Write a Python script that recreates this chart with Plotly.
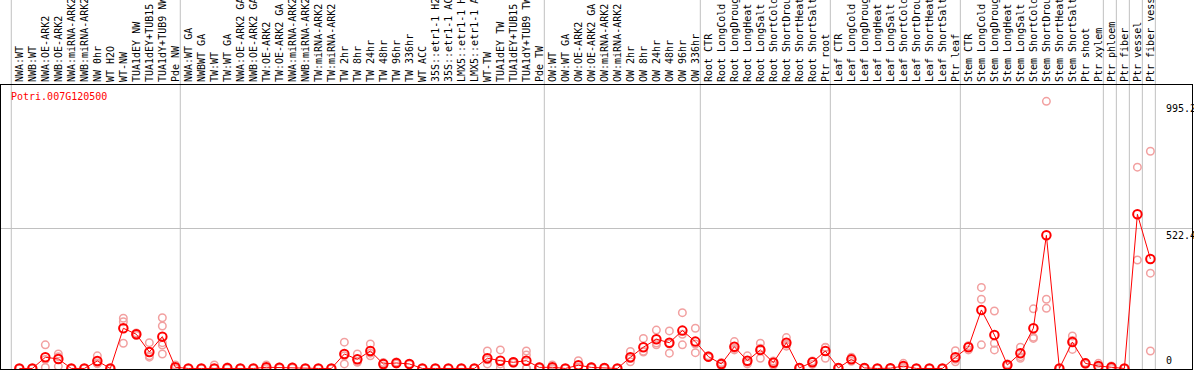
import plotly.graph_objects as go

gene = "Potri.007G120500"

categories = [
    "NWA:WT", "NWB:WT", "NWA:OE-ARK2", "NWB:OE-ARK2", "NWA:miRNA-ARK2", "NWB:miRNA-ARK2",
    "NW 0hr", "WT H2O", "WT-NW", "TUA1dEY NW", "TUA1dEY+TUB15 NW", "TUA1dY+TUB9 NW", "Pde NW",
    "NWA:WT GA", "NWBWT GA", "TW:WT", "TW:WT GA", "NWA:OE-ARK2 GA", "NWB:OE-ARK2 GA",
    "TW:OE-ARK2", "TW:OE-ARK2 GA", "NWA:miRNA-ARK2 GA", "NWB:miRNA-ARK2 GA", "TW:miRNA-ARK2",
    "TW:miRNA-ARK2 GA", "TW 2hr", "TW 8hr", "TW 24hr", "TW 48hr", "TW 96hr", "TW 336hr",
    "WT ACC", "35S::etr1-1 H2O", "35S::etr1-1 ACC", "LMX5::etr1-1 H2O", "LMX5::etr1-1 ACC",
    "WT-TW", "TUA1dEY TW", "TUA1dEY+TUB15 TW", "TUA1dY+TUB9 TW", "Pde TW",
    "OW:WT", "OW:WT GA", "OW:OE-ARK2", "OW:OE-ARK2 GA", "OW:miRNA-ARK2", "OW:miRNA-ARK2 GA",
    "OW 2hr", "OW 8hr", "OW 24hr", "OW 48hr", "OW 96hr", "OW 336hr",
    "Root CTR", "Root LongCold", "Root LongDrought", "Root LongHeat", "Root LongSalt",
    "Root ShortCold", "Root ShortDrought", "Root ShortHeat", "Root ShortSalt", "Ptr root",
    "Leaf CTR", "Leaf LongCold", "Leaf LongDrought", "Leaf LongHeat", "Leaf LongSalt",
    "Leaf ShortCold", "Leaf ShortDrought", "Leaf ShortHeat", "Leaf ShortSalt", "Ptr leaf",
    "Stem CTR", "Stem LongCold", "Stem LongDrought", "Stem LongHeat", "Stem LongSalt",
    "Stem ShortCold", "Stem ShortDrought", "Stem ShortHeat", "Stem ShortSalt", "Ptr shoot",
    "Ptr xylem", "Ptr phloem", "Ptr fiber", "Ptr vessel", "Ptr fiber vessel",
]

means = [
    0, 0, 41.7, 35.4, 0, 0, 28, 0, 149.8, 127.4, 61.5, 118.6, 4.5,
    0, 0, 0, 2, 0, 0, 4.5, 3, 3, 0, 0, 0, 54, 34, 65, 16.8, 20.5, 16.8,
    0, 0, 0, 0, 0, 38, 29, 23, 29, 4,
    4.5, 0, 12, 4, 2, 0, 41.7, 79, 108.7, 96, 141, 100,
    44, 16.8, 81, 29, 69, 21.6, 96, 2, 23, 65,
    2, 34, 2, 0, 1, 9, 0, 0, 0, 41.7,
    79, 218, 124.8, 13, 56.6, 150, 496, 0, 98.7, 19, 9,
    4.5, 0, 574.5, 408,
]

replicates = [
    [0, 0, 0], [0, 0, 0], [88, 33, 4], [54, 44, 8], [0, 0, 0], [0, 0, 0],
    [47, 19, 18], [0, 0, 0], [187, 174, 94], [132, 127, 123], [96, 47, 42],
    [189, 158, 96, 87, 54], [13, 0, 0],
    [0, 0, 0], [0, 0, 0], [13, 0, 0], [5, 1, 0], [0, 0, 0], [0, 0, 0],
    [13, 1, 0], [5, 3, 1], [5, 3, 1], [0, 0, 0], [0, 0, 0], [0, 0, 0],
    [98, 47, 17], [54, 25, 23], [91, 57, 47], [22, 19, 9], [24, 20, 17], [18, 17, 15],
    [0, 0, 0], [0, 0, 0], [0, 0, 0], [0, 0, 0], [0, 0, 0],
    [65, 32, 17], [69, 17, 1], [26, 23, 20], [65, 50, 1, 0], [6, 4, 2],
    [13, 0, 0], [0, 0, 0], [29, 5, 2], [6, 4, 2], [4, 2, 0], [0, 0, 0],
    [63, 37, 25], [112, 64, 61], [143, 95, 88], [140, 91, 57], [208, 127, 88], [150, 91, 59],
    [47, 44, 41], [22, 19, 9], [100, 74, 69], [47, 23, 17], [94, 75, 38],
    [28, 25, 12], [115, 90, 83], [4, 2, 0], [28, 26, 15], [79, 78, 38],
    [4, 2, 0], [42, 33, 27], [4, 2, 0], [0, 0, 0], [2, 1, 0],
    [19, 5, 3], [0, 0, 0], [0, 0, 0], [0, 0, 0], [66, 34, 25],
    [85, 83, 69], [302, 258, 88], [214, 94, 69], [17, 13, 9], [79, 44, 38],
    [222, 116, 112], [995.2, 258, 224], [0, 0, 0], [121, 104, 71], [22, 19, 16],
    [19, 6, 2], [9, 4, 0], [0, 0, 0], [750, 404], [809, 355, 65],
]

# index of first sample of each tissue group (and end)
group_starts = [0, 13, 41, 53, 63, 73, 84, 85, 86, 87, 88]
axis_labels = [995.2, 522.4, 0]

xs = list(range(len(categories)))
rep_x, rep_y = [], []
for i, reps in enumerate(replicates):
    for v in reps:
        rep_x.append(i)
        rep_y.append(v)

MONO = "DejaVu Sans Mono"

fig = go.Figure()
fig.add_trace(go.Scatter(
    x=rep_x, y=rep_y, mode="markers", cliponaxis=False,
    marker=dict(symbol="circle-open", size=7.5, color="#f2a0a0", line=dict(width=1.5, color="#f2a0a0")),
    hoverinfo="skip",
))
fig.add_trace(go.Scatter(
    x=xs, y=means, mode="lines+markers", cliponaxis=False,
    line=dict(color="#ff0000", width=1),
    marker=dict(symbol="circle-open", size=8.5, color="#ff0000", line=dict(width=2, color="#ff0000")),
    text=categories,
))

shapes = []
for s in group_starts:
    shapes.append(dict(type="line", xref="x", yref="paper", x0=s - 0.62, x1=s - 0.62,
                       y0=0, y1=1.4, line=dict(color="#c0c0c0", width=1), layer="below"))

annotations = [dict(text=gene, xref="paper", yref="paper", x=0.0067, y=0.958,
                    xanchor="left", yanchor="middle", showarrow=False,
                    font=dict(family=MONO, size=10, color="#ff0000"))]
for v in axis_labels:
    annotations.append(dict(text=("%g" % v), xref="paper", yref="y", x=0.9765, y=v,
                            xanchor="left", yanchor=("bottom" if v == 0 else "top"),
                            showarrow=False, font=dict(family=MONO, size=10, color="#000000")))

fig.update_layout(
    template="none",
    width=1194, height=370,
    margin=dict(l=1, r=2, t=85, b=1, pad=0),
    paper_bgcolor="white", plot_bgcolor="white",
    showlegend=False,
    shapes=shapes,
    annotations=annotations,
    xaxis=dict(
        side="top", range=[-1.41, 90.2], tickmode="array", tickvals=xs, ticktext=categories,
        tickangle=-90, ticks="", ticklabelstandoff=0, showgrid=False, zeroline=False,
        showline=True, linecolor="black", linewidth=1, mirror=True, automargin=False,
        tickfont=dict(family=MONO, size=10, color="black"), fixedrange=True,
    ),
    yaxis=dict(
        range=[-2, 1056], tickmode="array", tickvals=[522.4], showticklabels=False, ticks="",
        showgrid=True, gridcolor="#c0c0c0", gridwidth=1, zeroline=False,
        showline=True, linecolor="black", linewidth=1, mirror=True, automargin=False,
        fixedrange=True,
    ),
)

fig.write_html(
    "out.html",
    config={"displayModeBar": False},
    post_script="document.body.style.margin='0';document.body.style.overflow='hidden';",
)
